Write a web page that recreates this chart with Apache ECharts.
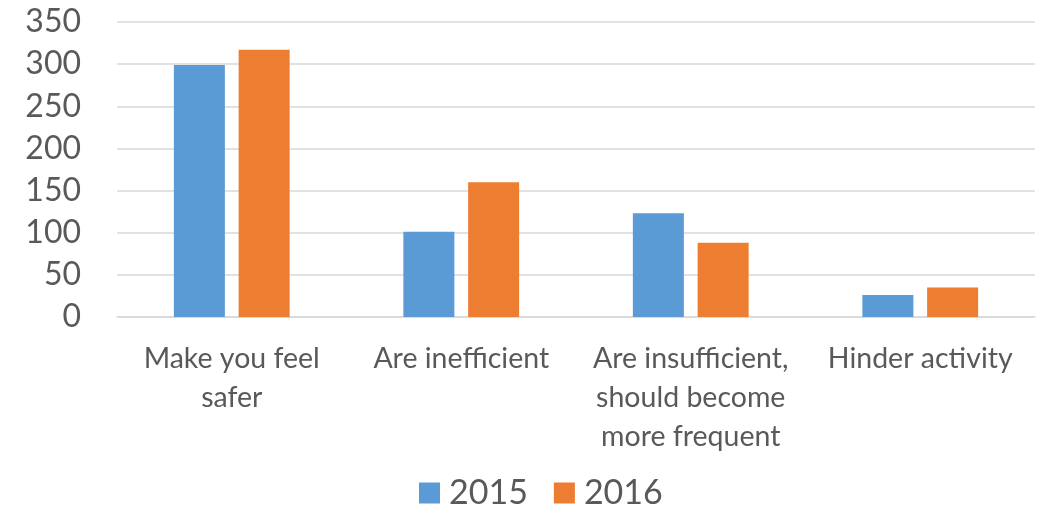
<!DOCTYPE html>
<html>
<head>
<meta charset="utf-8">
<script src="https://cdn.jsdelivr.net/npm/echarts@6/dist/echarts.min.js"></script>
<style>html,body{margin:0;padding:0;background:#fff}#c{width:1046px;height:516px}</style>
</head>
<body>
<div id="c"></div>
<script>
var categories = ["Make you feel\nsafer", "Are inefficient", "Are insufficient,\nshould become\nmore frequent", "Hinder activity"];
var series2015 = [299, 101, 123, 26];
var series2016 = [317, 160, 88, 35];
var seriesNames = ["2015", "2016"];
var yTicks = {min: 0, max: 350, interval: 50};

var chart = echarts.init(document.getElementById('c'), null, {renderer: 'canvas'});
var font = 'Lato';
chart.setOption({
  animation: false,
  color: ['#5b9bd5', '#ed7d31'],
  grid: {left: 117, right: 11, top: 22, bottom: 199, containLabel: false},
  legend: {
    bottom: 1, left: 414,
    itemWidth: 21, itemHeight: 21, itemGap: 26,
    icon: 'rect',
    textStyle: {fontFamily: font, fontSize: 34, color: '#595959', padding: [0, 0, 0, 4]},
    data: seriesNames
  },
  xAxis: {
    type: 'category',
    data: categories,
    axisTick: {show: false},
    axisLine: {lineStyle: {color: '#d9d9d9', width: 1.5}},
    axisLabel: {fontFamily: font, fontSize: 28.5, color: '#595959', lineHeight: 39, margin: 22, interval: 0}
  },
  yAxis: {
    type: 'value',
    min: yTicks.min, max: yTicks.max, interval: yTicks.interval,
    axisLine: {show: false},
    axisTick: {show: false},
    splitLine: {lineStyle: {color: '#d9d9d9', width: 1.5}},
    axisLabel: {fontFamily: font, fontSize: 32, color: '#595959', margin: 36}
  },
  series: [
    {name: seriesNames[0], type: 'bar', data: series2015, barWidth: 51, barGap: '27%'},
    {name: seriesNames[1], type: 'bar', data: series2016, barWidth: 51, barGap: '27%'}
  ]
});
</script>
</body>
</html>
